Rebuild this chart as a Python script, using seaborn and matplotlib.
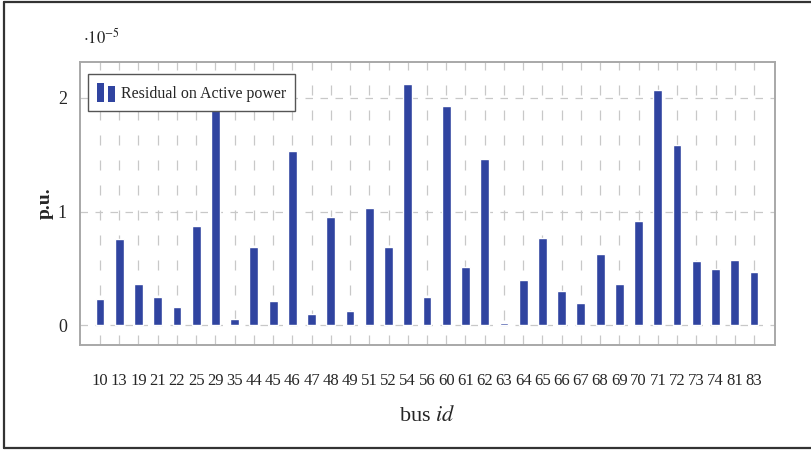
import matplotlib

matplotlib.use("Agg")
import matplotlib.pyplot as plt
import pandas as pd
import seaborn as sns
from matplotlib.legend_handler import HandlerBase
from matplotlib.lines import Line2D
from matplotlib.patches import Rectangle

# Data (values in units of 1e-5 p.u.)
bus_ids = ["10", "13", "19", "21", "22", "25", "29", "35", "44", "45", "46", "47", "48",
           "49", "51", "52", "54", "56", "60", "61", "62", "63", "64", "65", "66", "67",
           "68", "69", "70", "71", "72", "73", "74", "81", "83"]
residual = [0.23, 0.76, 0.36, 0.25, 0.16, 0.87, 1.90, 0.05, 0.69, 0.21, 1.53, 0.10, 0.95,
            0.12, 1.03, 0.69, 2.12, 0.25, 1.93, 0.51, 1.46, 0.02, 0.40, 0.77, 0.30, 0.19,
            0.63, 0.36, 0.92, 2.07, 1.59, 0.56, 0.49, 0.575, 0.47]
y_ticks = [0, 1, 2]

df = pd.DataFrame({"bus": bus_ids, "residual": residual})

bar_color = "#3044a0"
grid_color = "#c8c8c8"

sns.set_style("white")
plt.rcParams["font.family"] = ["Liberation Serif", "DejaVu Serif"]
plt.rcParams["mathtext.fontset"] = "stix"


class TwoBarHandler(HandlerBase):
    def create_artists(self, legend, orig_handle, xdescent, ydescent, width, height, fontsize, trans):
        bw = width * 0.36
        r1 = Rectangle((-xdescent, -ydescent), bw, height * 1.0, facecolor=bar_color,
                       edgecolor="none", transform=trans)
        r2 = Rectangle((-xdescent + width * 0.58, -ydescent), bw, height * 0.82,
                       facecolor=bar_color, edgecolor="none", transform=trans)
        return [r1, r2]


fig = plt.figure(figsize=(8.12, 4.5), dpi=100)
ax = fig.add_axes([80 / 812, 1 - 345 / 450, 695 / 812, 283 / 450])

sns.barplot(data=df, x="bus", y="residual", color=bar_color, saturation=1,
            width=0.46, ax=ax, zorder=3)

step = 654 / (len(bus_ids) - 1)
ax.set_xlim(-20 / step, len(bus_ids) - 1 + 21 / step)
ax.set_ylim(-0.176, 2.317)
ax.set_yticks(y_ticks)
ax.set_yticklabels([str(t) for t in y_ticks])

# grid
ax.yaxis.grid(True, color=grid_color, linestyle=(0, (6, 6)), linewidth=0.9, zorder=0)
ax.xaxis.grid(True, color=grid_color, linestyle=(0, (8, 12)), linewidth=0.9, zorder=0)

for side in ["left", "right", "top", "bottom"]:
    ax.spines[side].set_color("#a8a8a8")
    ax.spines[side].set_linewidth(1.4)

ax.tick_params(axis="x", direction="inout", length=15, color="#b0b0b0", width=0.8,
               labelsize=12, pad=13)
ax.tick_params(axis="y", direction="inout", length=9, color="#b0b0b0", width=0.8,
               labelsize=13, pad=5)

ax.set_xlabel(r"bus $\mathit{id}$", fontsize=16, labelpad=12)
ax.set_ylabel("p.u.", fontsize=14, fontweight="bold", labelpad=3)

ax.text(0.005, 1.05, r"$\cdot10^{-5}$", transform=ax.transAxes, fontsize=12,
        ha="left", va="bottom")

handle = Rectangle((0, 0), 1, 1, color=bar_color)
leg = ax.legend([handle], ["Residual on Active power"], loc="upper left",
                handler_map={Rectangle: TwoBarHandler()}, fontsize=11.5,
                fancybox=False, framealpha=1, edgecolor="#555555",
                handlelength=1.2, handleheight=1.5, handletextpad=0.3,
                borderpad=0.55, borderaxespad=0, bbox_to_anchor=(0.0115, 0.958))
leg.get_frame().set_linewidth(1.0)
leg.set_zorder(5)

# outer frame (left, top, bottom)
for xs, ys in [([4 / 812, 4 / 812], [1 - 2 / 450, 1 - 448 / 450]),
               ([4 / 812, 1.0], [1 - 2 / 450, 1 - 2 / 450]),
               ([4 / 812, 1.0], [1 - 448 / 450, 1 - 448 / 450])]:
    fig.add_artist(Line2D(xs, ys, color="#333333", linewidth=1.6, transform=fig.transFigure))

fig.savefig("out.png", dpi=100)
